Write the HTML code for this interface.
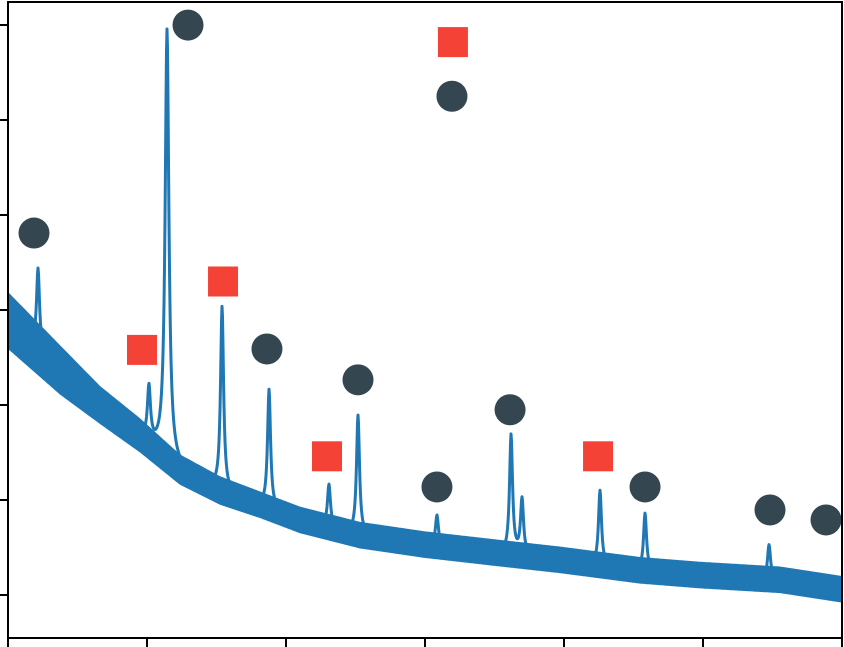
<!DOCTYPE html>
<html><head><meta charset="utf-8"><style>
html,body{margin:0;padding:0;background:#fff;}
svg{display:block;font-family:"Liberation Sans",sans-serif;}
</style></head><body>
<svg id="chart" width="844" height="647">
  <g id="plot"></g>
  <g id="markers"></g>
  <g id="axes"></g>
</svg>
<script>
const baseX=[0,0.374,0.662,0.95,1.237,1.525,1.813,2.101,2.532,3.0,3.54,3.971,4.547,4.978,5.554,6.0];
const baseY=[2.89,2.37,2.0,1.68,1.32,1.1,0.95,0.79,0.63,0.53,0.44,0.37,0.26,0.21,0.16,0.06];
const bandHalf=[0.3,0.26,0.2,0.18,0.16,0.15,0.14,0.14,0.14,0.14,0.14,0.14,0.14,0.14,0.14,0.14];
const peakX=[0.216,1.014,1.144,1.54,1.878,2.309,2.518,3.086,3.619,3.698,4.259,4.583,5.475];
const peakTop=[3.44,2.16,5.95,3.03,2.16,1.16,1.89,0.84,1.68,1.0,1.1,0.86,0.53];
const circleX=[0.187,1.295,3.194,1.863,2.518,3.086,3.612,4.583,5.482,5.885];
const circleY=[3.81,5.999,5.25,2.59,2.265,1.137,1.95,1.137,0.895,0.79];
const sqX=[0.964,1.547,3.201,2.295,4.245];
const sqY=[2.58,3.3,5.82,1.46,1.46];

const NS="http://www.w3.org/2000/svg";
const L=8,R=842,T=2,B=638;
const xs=v=>L+v*(R-L)/6;
const ys=v=>595-v*95;
function interp(arr,x){
  for(let i=0;i<baseX.length-1;i++){
    if(x<=baseX[i+1]){const t=(x-baseX[i])/(baseX[i+1]-baseX[i]);return arr[i]+t*(arr[i+1]-arr[i]);}
  }
  return arr[arr.length-1];
}
function mk(tag,attrs,parent){const e=document.createElementNS(NS,tag);for(const k in attrs)e.setAttribute(k,attrs[k]);parent.appendChild(e);return e;}
const plot=document.getElementById('plot');
let up=[],lo=[];
for(let px=L;px<=R;px++){
  const x=(px-L)*6/(R-L);
  const b=interp(baseY,x),h=interp(bandHalf,x);
  up.push(xs(x).toFixed(1)+','+ys(b+h).toFixed(1));
  lo.unshift(xs(x).toFixed(1)+','+ys(b-h).toFixed(1));
}
const band=mk('polygon',{points:up.concat(lo).join(' '),fill:'#1f77b4'},plot);


let pts=[];
for(let px=L;px<=R;px+=0.5){
  const x=(px-L)*6/(R-L);
  let y=interp(baseY,x);
  for(let i=0;i<peakX.length;i++){
    const h=peakTop[i]-interp(baseY,peakX[i]);
    const w=i===2?0.016:0.013;
    const d=(x-peakX[i])/w;
    y+=h/(1+d*d);
  }
  pts.push(xs(x).toFixed(1)+','+ys(y).toFixed(1));
}
const line=mk('polyline',{points:pts.join(' '),fill:'none',stroke:'#1f77b4','stroke-width':3,'stroke-linejoin':'round'},plot);


const mg=document.getElementById('markers');
for(let i=0;i<circleX.length;i++){
  const c=mk('circle',{cx:xs(circleX[i]),cy:ys(circleY[i]),r:15.5,fill:'#344650'},mg);
  
  
}
for(let i=0;i<sqX.length;i++){
  const s=mk('rect',{x:xs(sqX[i])-15,y:ys(sqY[i])-15,width:30,height:30,fill:'#f44336'},mg);
  
  
}
const ax=document.getElementById('axes');
const frame=mk('rect',{x:L,y:T,width:R-L,height:B-T,fill:'none',stroke:'#000','stroke-width':2},ax);


for(let v=0;v<=6;v++){
  const t=mk('line',{x1:0,x2:L,y1:ys(v),y2:ys(v),stroke:'#000','stroke-width':2},ax);
  
  
  const u=mk('line',{x1:xs(v),x2:xs(v),y1:B,y2:647,stroke:'#000','stroke-width':2},ax);
  
  
}
</script>
</body></html>
